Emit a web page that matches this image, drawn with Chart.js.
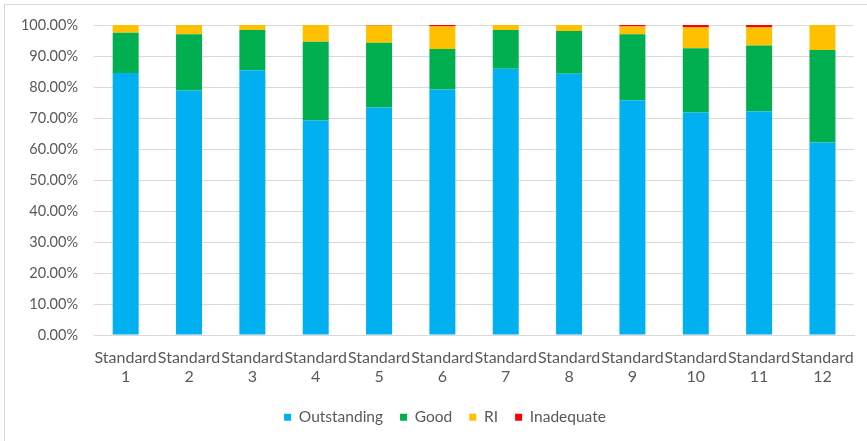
<!DOCTYPE html>
<html>
<head>
<meta charset="utf-8">
<script src="https://cdn.jsdelivr.net/npm/chart.js@4"></script>
<style>
  html, body { margin: 0; padding: 0; background: #fff; }
  #wrap { position: relative; width: 867px; height: 441px; overflow: hidden; }
  #frame { position: absolute; left: 4px; top: 4px; width: 900px; height: 480px;
           border-left: 1px solid #d9d9d9; border-top: 1px solid #d9d9d9; box-sizing: border-box; }
  canvas { position: absolute; left: 0; top: 0; }
</style>
</head>
<body>
<div id="wrap">
  <div id="frame"></div>
  <canvas id="c" width="867" height="441"></canvas>
</div>
<script>
// Share of ratings per standard (percent of total)
const categories = [
  ['Standard', '1'], ['Standard', '2'], ['Standard', '3'], ['Standard', '4'],
  ['Standard', '5'], ['Standard', '6'], ['Standard', '7'], ['Standard', '8'],
  ['Standard', '9'], ['Standard', '10'], ['Standard', '11'], ['Standard', '12']
];
const outstanding = [84.5, 78.9, 85.4, 69.2, 73.4, 79.2, 85.9, 84.3, 75.7, 71.8, 72.1, 62.1];
const good        = [13.0, 18.1, 13.0, 25.4, 20.9, 13.1, 12.5, 13.8, 21.3, 20.7, 21.3, 29.8];
const ri          = [2.5, 3.0, 1.6, 5.4, 5.5, 7.2, 1.6, 1.9, 2.5, 6.7, 5.8, 8.1];
const inadequate  = [0, 0, 0, 0, 0.2, 0.5, 0, 0, 0.5, 0.8, 0.8, 0];
const yTicks = [0, 10, 20, 30, 40, 50, 60, 70, 80, 90, 100];

const textColor = '#595959';
const fontFamily = 'Lato, "Open Sans", sans-serif';

// Nudge the legend row a little to the right of the canvas centre
const legendShift = {
  id: 'legendShift',
  afterLayout(chart) {
    if (chart.legend) { chart.legend.left += 16; chart.legend.right += 16; }
  }
};

new Chart(document.getElementById('c'), {
  type: 'bar',
  data: {
    labels: categories,
    datasets: [
      { label: 'Outstanding', data: outstanding, backgroundColor: '#00B0F0' },
      { label: 'Good', data: good, backgroundColor: '#00B050' },
      { label: 'RI', data: ri, backgroundColor: '#FFC000' },
      { label: 'Inadequate', data: inadequate, backgroundColor: '#FF0000' }
    ]
  },
  plugins: [legendShift],
  options: {
    responsive: false,
    animation: false,
    layout: { padding: { left: 0, right: 9, top: 25, bottom: 6 } },
    datasets: { bar: { categoryPercentage: 1, barPercentage: 0.41, borderWidth: 0 } },
    scales: {
      x: {
        stacked: true,
        afterFit: (s) => { s.height -= 7; },
        grid: { display: false, drawTicks: false },
        border: { display: true, color: '#d9d9d9', width: 1 },
        ticks: { color: textColor, font: { family: fontFamily, size: 16 }, padding: 13,
                 maxRotation: 0, autoSkip: false }
      },
      y: {
        stacked: true,
        min: 0, max: 100,
        afterBuildTicks: (s) => { s.ticks = yTicks.map(v => ({ value: v })); },
        afterFit: (s) => { s.width = 94; },
        grid: { color: '#d9d9d9', lineWidth: 1, drawTicks: false },
        border: { display: false },
        ticks: { color: textColor, font: { family: fontFamily, size: 14.5 }, padding: 16,
                 callback: (v) => Number(v).toFixed(2) + '%' }
      }
    },
    plugins: {
      tooltip: { enabled: false },
      legend: {
        position: 'bottom',
        labels: { color: textColor, font: { family: fontFamily, size: 15.5 },
                  boxWidth: 7, boxHeight: 7, padding: 17 }
      }
    }
  }
});
</script>
</body>
</html>
